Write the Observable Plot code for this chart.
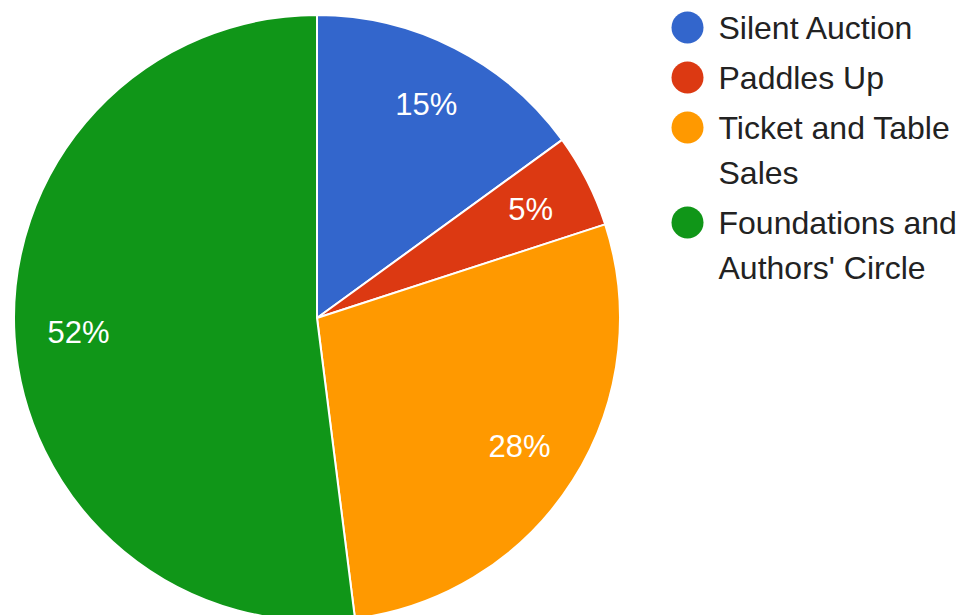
<!DOCTYPE html>
<html><head><meta charset="utf-8">
<script src="https://cdn.jsdelivr.net/npm/d3@7"></script>
<script src="https://cdn.jsdelivr.net/npm/@observablehq/plot@0.6"></script>
<style>html,body{margin:0;padding:0;background:#fff;} #chart{width:959px;height:615px;overflow:hidden;}</style>
</head><body><div id="chart"></div>
<script>
// Data
const categories = ["Silent Auction", "Paddles Up", "Ticket and Table Sales", "Foundations and Authors' Circle"];
const values = [15, 5, 28, 52];
const colors = ["#3366cc", "#dc3912", "#ff9900", "#109618"];
const legendLabels = ["Silent Auction", "Paddles Up", "Ticket and Table\nSales", "Foundations and\nAuthors' Circle"];

// Layout
const W = 959, H = 615, CX = 317, CY = 318, R = 303, LABEL_R = 0.79;
const LEG_X = 687, LEG_TEXT_X = 718, LEG_Y0 = 27, ROW = 50, LINE = 45, FONT = 31, LEG_FONT = 32;
const FAMILY = "'Liberation Sans', Arial, Helvetica, sans-serif";

const total = d3.sum(values);
const arcs = d3.pie().sort(null).value(d => d.value)(categories.map((c, i) => ({category: c, value: values[i]})));
const labelData = arcs.map(a => {
  const m = (a.startAngle + a.endAngle) / 2;
  return {text: `${Math.round(a.data.value / total * 100)}%`, x: CX + LABEL_R * R * Math.sin(m), y: CY - LABEL_R * R * Math.cos(m)};
});
let yy = LEG_Y0;
const legendData = categories.map((c, i) => {
  const row = {category: c, label: legendLabels[i], x: LEG_X, tx: LEG_TEXT_X, y: yy};
  yy += ROW + LINE * (legendLabels[i].split("\n").length - 1);
  return row;
});

function slices(index, scales) {
  const color = scales.color || d3.scaleOrdinal(categories, colors);
  const arc = d3.arc().innerRadius(0).outerRadius(R);
  const g = d3.create("svg:g").attr("transform", `translate(${CX},${CY})`);
  g.selectAll("path").data(arcs).join("path")
    .attr("d", arc)
    .attr("fill", d => color(d.data.category))
    .attr("stroke", "#ffffff")
    .attr("stroke-width", 2)
    .attr("stroke-linejoin", "round");
  return g.node();
}

const chart = Plot.plot({
  width: W, height: H, margin: 0,
  x: {type: "identity", axis: null},
  y: {type: "identity", axis: null},
  color: {domain: categories, range: colors},
  style: {fontFamily: FAMILY, background: "#ffffff"},
  marks: [
    slices,
    Plot.text(labelData, {x: "x", y: "y", text: "text", fill: "#ffffff", fontSize: FONT}),
    Plot.dot(legendData, {x: "x", y: "y", r: 16, fill: "category", stroke: null}),
    Plot.text(legendData, {x: "tx", y: d => d.y - 20.5, text: "label", textAnchor: "start", lineAnchor: "top", lineHeight: LINE / LEG_FONT, fill: "#222222", fontSize: LEG_FONT})
  ]
});
document.getElementById("chart").appendChild(chart);
</script>
</body></html>
